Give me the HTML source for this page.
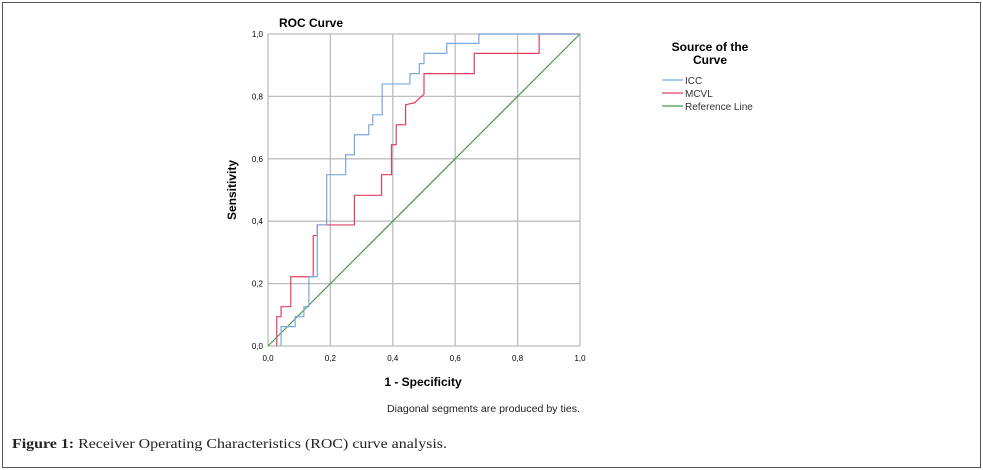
<!DOCTYPE html>
<html><head><meta charset="utf-8">
<style>
body{margin:0;background:#fff;}
svg{display:block;font-family:"Liberation Sans",Arial,sans-serif;}
</style></head>
<body>
<svg id="chart" width="983" height="470" viewBox="0 0 983 470">
<rect x="2.5" y="2.5" width="978" height="465" fill="#fff" stroke="#555" stroke-width="1"/>
<text x="311" y="27" text-anchor="middle" font-size="12" font-weight="bold" fill="#000">ROC Curve</text>
<g id="grid"></g>
<rect x="268" y="34" width="312" height="312" fill="none" stroke="#bbb" stroke-width="1"/>
<g id="ticks"></g>
<g id="series"></g>
<text x="423" y="386" text-anchor="middle" font-size="12" font-weight="bold">1 - Specificity</text>
<text x="236" y="190" text-anchor="middle" font-size="12" font-weight="bold" transform="rotate(-90 236 190)">Sensitivity</text>
<text x="710" y="51" text-anchor="middle" font-size="12" font-weight="bold">Source of the</text>
<text x="710" y="64" text-anchor="middle" font-size="12" font-weight="bold">Curve</text>
<g><line x1="662" y1="80" x2="683" y2="80" stroke="#7aa7e0" stroke-width="1.2"/><text x="685" y="84" font-size="10" fill="#333">ICC</text></g>
<g><line x1="662" y1="93" x2="683" y2="93" stroke="#e0405f" stroke-width="1.2"/><text x="685" y="97" font-size="10" fill="#333">MCVL</text></g>
<g><line x1="662" y1="106" x2="683" y2="106" stroke="#4a9a4a" stroke-width="1.2"/><text x="685" y="110" font-size="10" fill="#333">Reference Line</text></g>
<text x="387" y="412" font-size="10" fill="#222" textLength="193" lengthAdjust="spacingAndGlyphs">Diagonal segments are produced by ties.</text>
<text x="12" y="448" font-size="14" font-family="'Liberation Serif',serif" fill="#222" textLength="435" lengthAdjust="spacingAndGlyphs"><tspan font-weight="bold">Figure 1:</tspan> Receiver Operating  Characteristics (ROC) curve analysis.</text>
</svg>
<script>
const tickValues=[0,0.2,0.4,0.6,0.8,1.0];
const tickLabels=["0,0","0,2","0,4","0,6","0,8","1,0"];
const iccFpr=[0.042,0.042,0.087,0.087,0.115,0.115,0.131,0.131,0.158,0.158,0.188,0.188,0.249,0.249,0.277,0.277,0.323,0.323,0.336,0.336,0.366,0.366,0.455,0.455,0.485,0.485,0.5,0.5,0.573,0.573,0.676,0.676,1.0];
const iccTpr=[0,0.062,0.062,0.094,0.094,0.126,0.126,0.222,0.222,0.388,0.388,0.549,0.549,0.613,0.613,0.677,0.677,0.709,0.709,0.741,0.741,0.84,0.84,0.873,0.873,0.905,0.905,0.938,0.938,0.97,0.97,1.0,1.0];
const mcvlFpr=[0.028,0.028,0.042,0.042,0.073,0.073,0.145,0.145,0.158,0.158,0.277,0.277,0.364,0.364,0.396,0.396,0.411,0.411,0.441,0.441,0.47,0.5,0.5,0.661,0.661,0.869,0.869,1.0];
const mcvlTpr=[0,0.094,0.094,0.126,0.126,0.222,0.222,0.354,0.354,0.388,0.388,0.483,0.483,0.549,0.549,0.645,0.645,0.709,0.709,0.773,0.78,0.807,0.873,0.873,0.938,0.938,1.0,1.0];
const refFpr=[0,1];
const refTpr=[0,1];
const NS="http://www.w3.org/2000/svg";
function xs(v){return 268+v*312;}
function ys(v){return 346-v*312;}
const grid=document.getElementById('grid'),ticks=document.getElementById('ticks'),series=document.getElementById('series');
tickValues.forEach((v,i)=>{
  const gv=document.createElementNS(NS,'line');
  
  
  gv.setAttribute('x1',xs(v));gv.setAttribute('x2',xs(v));gv.setAttribute('y1',ys(0));gv.setAttribute('y2',ys(1));
  gv.setAttribute('stroke','#bdbdbd');gv.setAttribute('stroke-width','1.3');grid.appendChild(gv);
  const gh=document.createElementNS(NS,'line');
  
  
  gh.setAttribute('x1',xs(0));gh.setAttribute('x2',xs(1));gh.setAttribute('y1',ys(v));gh.setAttribute('y2',ys(v));
  gh.setAttribute('stroke','#bdbdbd');gh.setAttribute('stroke-width','1.3');grid.appendChild(gh);
  const tx=document.createElementNS(NS,'text');
  
  
  tx.setAttribute('x',xs(v));tx.setAttribute('y',361);tx.setAttribute('text-anchor','middle');tx.setAttribute('font-size','8');
  tx.textContent=tickLabels[i];ticks.appendChild(tx);
  const ty=document.createElementNS(NS,'text');
  
  
  ty.setAttribute('x',263);ty.setAttribute('y',ys(v)+3);ty.setAttribute('text-anchor','end');ty.setAttribute('font-size','8');
  ty.textContent=tickLabels[i];ticks.appendChild(ty);
});
function line(xa,ya,color,name){
  const p=document.createElementNS(NS,'polyline');
  
  
  p.setAttribute('points',xa.map((x,i)=>xs(x)+','+ys(ya[i])).join(' '));
  p.setAttribute('fill','none');p.setAttribute('stroke',color);p.setAttribute('stroke-width','1.2');
  series.appendChild(p);
}
line(refFpr,refTpr,'#4a9a4a','reference-line');
line(mcvlFpr,mcvlTpr,'#e0405f','mcvl-curve');
line(iccFpr,iccTpr,'#7aa7e0','icc-curve');
</script>
</body></html>
